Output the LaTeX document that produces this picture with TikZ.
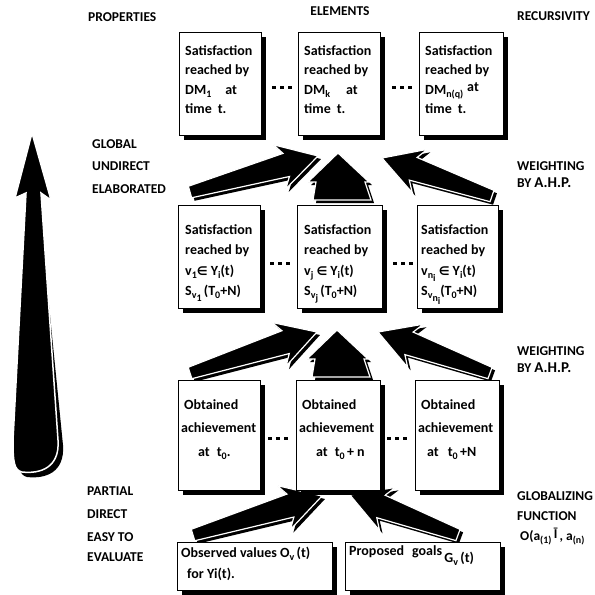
\documentclass[tikz,border=0pt]{standalone}
\usepackage{fontspec}
\setmainfont{Carlito}
\newfontfamily\symf{DejaVu Sans}
\usetikzlibrary{calc,shadows}
\newcommand\lo[1]{\raisebox{-3pt}{\fontsize{10}{10}\selectfont #1}}
\newcommand\elem{{\symf\fontsize{12}{12}\selectfont ∈}}
\tikzset{
  pics/fatarrow/.style={code={
    \begin{scope}[x=1pt,y=1pt]
    \path[pic actions] (0,-6) -- ({#1-33},-12) -- ({#1-40},-23) -- ({#1},0)
       -- ({#1-40},23) -- ({#1-33},12) -- (0,6) -- cycle;
    \end{scope}}},
  pics/uparrow/.style={code={
    \begin{scope}[x=1pt,y=1pt]
    \path[pic actions] (0,0) -- (31,-29) -- (27,-29) -- (33,-47) -- (-25,-47)
       -- (-22,-29) -- (-30,-29) -- cycle;
    \end{scope}}},
  box/.style={draw, line width=1.1pt, fill=white, anchor=north west, inner sep=0pt,
    drop shadow={shadow xshift=4pt, shadow yshift=-4pt, fill=black, opacity=1}},
  boxtext/.style={anchor=north west, inner sep=0pt, align=left,
    font=\fontsize{14}{#1}\selectfont\bfseries},
  lab/.style={anchor=base west, inner sep=0pt, font=\fontsize{13.5}{16}\selectfont\bfseries},
}
\newcommand\blockarrow[2]{%
  \path let \p1=(#1), \p2=(#2) in \pgfextra{%
    \pgfmathsetmacro\bal{veclen(\x2-\x1,\y2-\y1)}%
    \pgfmathsetmacro\baa{atan2(\y2-\y1,\x2-\x1)}%
    \xdef\bal{\bal}\xdef\baa{\baa}};
  \path (#1) ++(3pt,-3pt) pic[rotate=\baa, fill=black]{fatarrow=\bal};
  \path (#1) pic[rotate=\baa, fill=black, draw=white, line width=1.2pt]{fatarrow=\bal};
}
\newcommand\dotrow[2]{\foreach \dx in {0,8,16}{\fill ($(#1,#2)+(\dx,-1.5)$) rectangle ++(3.5,3.5);}}
\begin{document}
\begin{tikzpicture}[x=1pt,y=-1pt]
\useasboundingbox (0,0) rectangle (595,595);
\clip (0,0) rectangle (595,595);

% big left arrow
\fill[black, shift={(5pt,-5pt)}] (44,300) -- (58,440) .. controls (60,468) and (40,474) .. (22,472)
   .. controls (14,470) and (13,462) .. (13,440) -- (20,300) -- cycle;
\filldraw[fill=black, draw=white, line width=1.5pt] (32,133) -- (51,200) -- (41,193) -- (58,440)
   .. controls (60,468) and (40,474) .. (22,472) .. controls (14,470) and (13,462) .. (13,440)
   -- (26,193) -- (15,198) -- cycle;

% labels
\node[lab] (lprop) at (88,21) {PROPERTIES};
\node[lab, anchor=base] (lelem) at (340,15) {ELEMENTS};
\node[lab] (lrec) at (517,20) {RECURSIVITY};
\node[lab] (lglob) at (92,148) {GLOBAL};
\node[lab] (lundir) at (92,170) {UNDIRECT};
\node[lab] (lelab) at (92,193) {ELABORATED};
\node[lab] (lw1) at (517,170) {WEIGHTING};
\node[lab] (lby1) at (517,187) {BY {\fontsize{15}{16}\selectfont A.H.P.}};
\node[lab] (lw2) at (517,355) {WEIGHTING};
\node[lab] (lby2) at (517,372) {BY {\fontsize{15}{16}\selectfont A.H.P.}};
\node[lab] (lpart) at (87,495) {PARTIAL};
\node[lab] (ldir) at (87,518) {DIRECT};
\node[lab] (leasy) at (87,541) {EASY TO};
\node[lab] (leval) at (87,561) {EVALUATE};
\node[lab] (lglz) at (517,500) {GLOBALIZING};
\node[lab] (lfun) at (517,520) {FUNCTION};
\node[lab] (lfx) at (520,540) {O(a\lo{(1)}\,\raisebox{2pt}{Ī}\,, a\lo{(n)}};

% arrows between rows
\coordinate (a1t) at (190,192); \coordinate (a1h) at (318,156);
\coordinate (a2t) at (492,196); \coordinate (a2h) at (382,158);
\coordinate (b1t) at (190,373); \coordinate (b1h) at (317,332);
\coordinate (b2t) at (490,373); \coordinate (b2h) at (378,332);
\coordinate (c1t) at (193,535); \coordinate (c1h) at (322,496);
\coordinate (c2t) at (458,535); \coordinate (c2h) at (350,495);
\blockarrow{a1t}{a1h}
\blockarrow{a2t}{a2h}
\blockarrow{b1t}{b1h}
\blockarrow{b2t}{b2h}
\blockarrow{c1t}{c1h}
\blockarrow{c2t}{c2h}
\coordinate (m1) at (338,153);
\coordinate (m2) at (337,330);
\path (m1) ++(3pt,-3pt) pic[fill=black]{uparrow};
\path (m1) pic[fill=black, draw=white, line width=1.2pt]{uparrow};
\path (m2) ++(3pt,-3pt) pic[fill=black]{uparrow};
\path (m2) pic[fill=black, draw=white, line width=1.2pt]{uparrow};

% top row
\node[box, minimum width=82pt, minimum height=103pt] (t1) at (179,32) {};
\node[box, minimum width=82pt, minimum height=103pt] (t2) at (298,32) {};
\node[box, minimum width=84pt, minimum height=103pt] (t3) at (419,32) {};
\node[boxtext=19.5] (t1x) at (185,45) {Satisfaction\\reached by\\DM\lo{1}\hspace{14pt}at\\time\hspace{6pt}t.};
\node[boxtext=19.5] (t2x) at (304,45) {Satisfaction\\reached by\\DM\lo{k}\hspace{16pt}at\\time\hspace{6pt}t.};
\node[boxtext=19.5] (t3x) at (425,45) {Satisfaction\\reached by\\DM\lo{n(q)}\hspace{4pt}\raisebox{3pt}{at}\\time\hspace{6pt}t.};
\dotrow{272}{87} \dotrow{392}{87}

% middle row
\node[box, minimum width=82pt, minimum height=103pt] (m1b) at (178,205) {};
\node[box, minimum width=85pt, minimum height=103pt] (m2b) at (297,205) {};
\node[box, minimum width=81pt, minimum height=103pt] (m3b) at (417,205) {};
\node[boxtext=20.5] (m1x) at (185,224) {Satisfaction\\reached by\\v\lo{1}\elem{} Y\lo{i}(t)\\S\lo{v\lo{1}}\,(T\lo{0}+N)};
\node[boxtext=20.5] (m2x) at (304,224) {Satisfaction\\reached by\\v\lo{j} \elem{} Y\lo{i}(t)\\S\lo{v\lo{j}}\,(T\lo{0}+N)};
\node[boxtext=20.5] (m3x) at (421,224) {Satisfaction\\reached by\\v\lo{n\lo{i}} \elem{} Y\lo{i}(t)\\S\lo{v\lo{n\lo{i}}}(T\lo{0}+N)};
\dotrow{270}{263} \dotrow{393}{263}

% lower row
\node[box, minimum width=82pt, minimum height=110pt] (l1) at (178,380) {};
\node[box, minimum width=84pt, minimum height=110pt] (l2) at (296,380) {};
\node[box, minimum width=84pt, minimum height=110pt] (l3) at (415,380) {};
\node[boxtext=23.5] (l1x) at (184,399) {Obtained\\\hspace{-3pt}achievement\\\hspace{14pt}at\hspace{7pt}t\lo{0}.};
\node[boxtext=23.5] (l2x) at (302,399) {Obtained\\\hspace{-3pt}achievement\\\hspace{14pt}at\hspace{7pt}t\lo{0}\,+ n};
\node[boxtext=23.5] (l3x) at (421,399) {Obtained\\\hspace{-3pt}achievement\\\hspace{6pt}at\hspace{9pt}t\lo{0}\,+N};
\dotrow{268}{438} \dotrow{387}{438}

% bottom row
\node[box, minimum width=155pt, minimum height=48pt] (o1) at (177,542) {};
\node[box, minimum width=155pt, minimum height=48pt] (o2) at (345,542) {};
\node[boxtext=21] (o1x) at (181,547) {Observed values O\lo{v}\,(t)\\\hspace{6pt}for Yi(t).};
\node[boxtext=21] (o2x) at (349,545) {Proposed\hspace{8pt}goals\,\raisebox{-7pt}{G\lo{v}\,(t)}};

\end{tikzpicture}
\end{document}
